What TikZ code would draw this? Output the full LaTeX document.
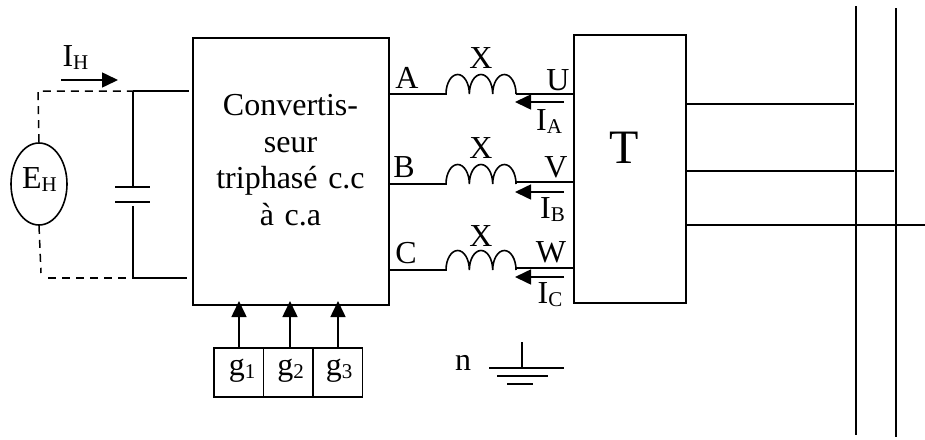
\documentclass[tikz,border=0pt]{standalone}
\usepackage{fontspec}
\setmainfont{Liberation Serif}
\usepackage{tikz}
\usetikzlibrary{arrows.meta, shapes.geometric}

\newcommand{\lowtxt}[1]{\raisebox{-3pt}{\fontsize{21}{21}\selectfont #1}}
\newcommand{\coilpath}{arc[start angle=180, end angle=360, x radius=11.67, y radius=19.5] arc[start angle=180, end angle=360, x radius=11.67, y radius=19.5] arc[start angle=180, end angle=360, x radius=11.67, y radius=19.5]}
\tikzset{
    wire/.style={line width=1.6pt},
    dashwire/.style={line width=1.5pt, dash pattern=on 8pt off 6pt},
    current/.style={line width=1.6pt, -{Triangle[length=16pt,width=15pt]}},
    lbl/.style={inner sep=0pt, anchor=base, font=\fontsize{32}{32}\selectfont},
    gbox/.style={draw, line width=1.6pt, minimum width=49.5pt, minimum height=49pt, inner sep=0pt}
}

\begin{document}
\begin{tikzpicture}[x=1pt,y=-1pt]
            \useasboundingbox (0,0) rectangle (925,439);

            % Nodes
            \node[draw, wire, minimum width=196pt, minimum height=267pt, inner sep=0pt] (conv) at (291,171.5) {};
            \node[inner sep=0pt, align=center, text width=190pt, font=\fontsize{32}{36.7}\selectfont] (convtext) at (290.5,160) {Convertis-\\seur\\triphasé c.c\\à c.a};
            \node[draw, wire, minimum width=112pt, minimum height=268pt, inner sep=0pt] (trafo) at (630,169) {};
            \node[lbl, font=\fontsize{48}{48}\selectfont] (ltrafo) at (624.5,163) {T};
            \node[draw, wire, ellipse, minimum width=56pt, minimum height=82pt, inner sep=0pt] (eh) at (39,184) {};
            \node[gbox] (g1) at (238.75,372.5) {};
            \node[gbox] (g2) at (288.25,372.5) {};
            \node[gbox] (g3) at (337.75,372.5) {};

            % Labels
            \node[lbl] (leh) at (39.5,188) {E\lowtxt{H}};
            \node[lbl] (lg1) at (242,375) {g\lowtxt{1}};
            \node[lbl] (lg2) at (290.5,375) {g\lowtxt{2}};
            \node[lbl] (lg3) at (339,375) {g\lowtxt{3}};
            \node[lbl] (lih) at (75.5,66) {I\lowtxt{H}};
            \node[lbl] (la) at (407,88) {A};
            \node[lbl] (lb) at (404,177) {B};
            \node[lbl] (lc) at (406,263) {C};
            \node[lbl] (lx1) at (481,68) {X};
            \node[lbl] (lx2) at (481,158) {X};
            \node[lbl] (lx3) at (481,246) {X};
            \node[lbl] (lu) at (558,90) {U};
            \node[lbl] (lv) at (556,177) {V};
            \node[lbl] (lw) at (551,262) {W};
            \node[lbl] (lia) at (549,130) {I\lowtxt{A}};
            \node[lbl] (lib) at (552.5,218) {I\lowtxt{B}};
            \node[lbl] (lic) at (550,303) {I\lowtxt{C}};
            \node[lbl] (ln) at (463,370) {n};

            % Source side
            \coordinate (ct) at (133,91);
            \coordinate (cb) at (133,278);
            \coordinate (ih1) at (61,80);
            \coordinate (ih2) at (118,80);
            \draw[dashwire] (eh.north) -- (38,91) -- (ct);
            \draw[dashwire] (eh.south) -- (41,273);
            \draw[dashwire] (48,278) -- (cb);
            \draw[wire] (ct) -- (189,91);
            \draw[wire] (cb) -- (187,278);
            \draw[wire] (ct) -- (133,187);
            \draw[wire] (133,206) -- (cb);
            \draw[wire] (115,187) -- (150,187);
            \draw[wire] (115,202) -- (150,202);
            \draw[current] (ih1) -- (ih2);

            % Phases
            \coordinate (a1) at (446,94);
            \coordinate (a2) at (516,94);
            \coordinate (b1) at (446,184);
            \coordinate (b2) at (516,182);
            \coordinate (c1) at (446,270);
            \coordinate (c2) at (516,268);
            \draw[wire] (conv.east |- a1) -- (a1) \coilpath;
            \draw[wire] (a2) -- (trafo.west |- a2);
            \draw[wire] (conv.east |- b1) -- (b1) \coilpath;
            \draw[wire] (b2) -- (trafo.west |- b2);
            \draw[wire] (conv.east |- c1) -- (c1) \coilpath;
            \draw[wire] (c2) -- (trafo.west |- c2);
            \draw[current] (564,102) -- (515,102);
            \draw[current] (564,192) -- (515,192);
            \draw[current] (564,277) -- (515,277);

            % Gate signals
            \coordinate (gt1) at (239,301);
            \coordinate (gt2) at (290,301);
            \coordinate (gt3) at (338,301);
            \draw[current] (g1.north -| gt1) -- (gt1);
            \draw[current] (g2.north -| gt2) -- (gt2);
            \draw[current] (g3.north -| gt3) -- (gt3);

            % Ground
            \draw[wire] (522,342) -- (522,368);
            \draw[wire] (489,368) -- (564,368);
            \draw[wire] (497,376) -- (548,376);
            \draw[wire] (507,384) -- (533,384);

            % Busbars
            \coordinate (bus1) at (854,104);
            \coordinate (bus2) at (894,171);
            \coordinate (bus3) at (925,225);
            \draw[wire] (856,6) -- (856,435);
            \draw[wire] (896,8) -- (896,437);
            \draw[wire] (trafo.east |- bus1) -- (bus1);
            \draw[wire] (trafo.east |- bus2) -- (bus2);
            \draw[wire] (trafo.east |- bus3) -- (bus3);
\end{tikzpicture}
\end{document}
